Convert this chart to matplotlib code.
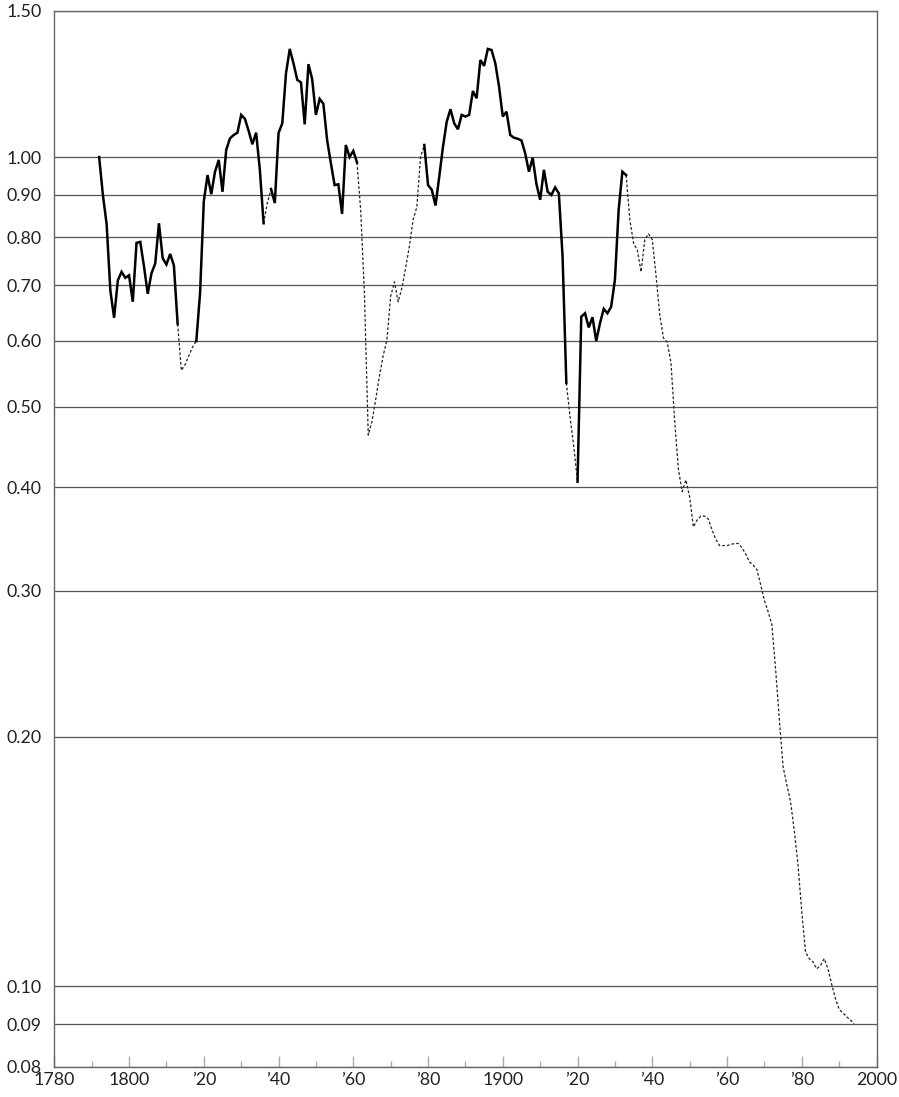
import numpy as np
import matplotlib
matplotlib.use("Agg")
import matplotlib.pyplot as plt
from matplotlib.ticker import FixedLocator, NullFormatter, NullLocator

# Annual index values, 1792-1994
years = np.arange(1792, 1995)
values = [
    1.00, 0.90, 0.83, 0.69, 0.64, 0.71, 0.727, 0.715, 0.72, 0.669,          # 1792-1801
    0.788, 0.79, 0.738, 0.684, 0.724, 0.744, 0.832, 0.755, 0.742, 0.764,    # 1802-1811
    0.740, 0.629, 0.553, 0.562, 0.576, 0.590, 0.600, 0.685, 0.884, 0.951,   # 1812-1821
    0.902, 0.960, 0.992, 0.908, 1.02, 1.053, 1.063, 1.07, 1.124, 1.112,     # 1822-1831
    1.075, 1.036, 1.07, 0.965, 0.832, 0.88, 0.915, 0.880, 1.069, 1.098,     # 1832-1841
    1.262, 1.35, 1.297, 1.239, 1.23, 1.095, 1.294, 1.241, 1.124, 1.175,     # 1842-1851
    1.159, 1.048, 0.983, 0.925, 0.927, 0.854, 1.034, 1.00, 1.017, 0.985,    # 1852-1861
    0.86, 0.68, 0.462, 0.48, 0.51, 0.545, 0.576, 0.602, 0.679, 0.707,       # 1862-1871
    0.669, 0.695, 0.735, 0.78, 0.84, 0.87, 1.00, 1.034, 0.925, 0.913,       # 1872-1881
    0.874, 0.947, 1.029, 1.103, 1.142, 1.098, 1.080, 1.124, 1.119, 1.124,   # 1882-1891
    1.201, 1.177, 1.309, 1.288, 1.35, 1.346, 1.297, 1.216, 1.119, 1.134,    # 1892-1901
    1.063, 1.055, 1.052, 1.047, 1.01, 0.960, 0.998, 0.928, 0.888, 0.965,    # 1902-1911
    0.908, 0.900, 0.919, 0.904, 0.758, 0.534, 0.486, 0.447, 0.406, 0.642,   # 1912-1921
    0.648, 0.623, 0.641, 0.600, 0.630, 0.656, 0.648, 0.660, 0.711, 0.863,   # 1922-1931
    0.960, 0.951, 0.84, 0.787, 0.772, 0.727, 0.795, 0.808, 0.795, 0.72,     # 1932-1941
    0.645, 0.605, 0.598, 0.565, 0.48, 0.42, 0.395, 0.408, 0.389, 0.358,     # 1942-1951
    0.365, 0.369, 0.369, 0.366, 0.355, 0.346, 0.340, 0.340, 0.340, 0.341,  # 1952-1961
    0.342, 0.342, 0.338, 0.332, 0.325, 0.322, 0.318, 0.305, 0.292, 0.283,  # 1962-1971
    0.273, 0.241, 0.2096, 0.184, 0.175, 0.167, 0.154, 0.140, 0.123, 0.110, # 1972-1981
    0.108, 0.107, 0.105, 0.106, 0.108, 0.105, 0.1006, 0.0967, 0.0938,     # 1982-1990
    0.0929, 0.0919, 0.0911, 0.0901,                                        # 1991-1994
]
values = np.array(values)

# Years covered by continuous observations (solid); the rest is estimated (dotted)
solid_spans = [(1792, 1813), (1818, 1836), (1838, 1861), (1879, 1917), (1920, 1933)]
dotted_spans = [(1813, 1818), (1836, 1838), (1861, 1879), (1917, 1920), (1933, 1994)]

y_ticks = [0.08, 0.09, 0.10, 0.20, 0.30, 0.40, 0.50, 0.60, 0.70, 0.80, 0.90, 1.00, 1.50]
y_labels = ["0.08", "0.09", "0.10", "0.20", "0.30", "0.40", "0.50", "0.60",
            "0.70", "0.80", "0.90", "1.00", "1.50"]
x_major = [1780, 1800, 1820, 1840, 1860, 1880, 1900, 1920, 1940, 1960, 1980, 2000]
x_labels = ["1780", "1800", "\u201920", "\u201940", "\u201960", "\u201980",
            "1900", "\u201920", "\u201940", "\u201960", "\u201980", "2000"]
x_minor = [1790, 1810, 1830, 1850, 1870, 1890, 1910, 1930, 1950, 1970, 1990]

plt.rcParams["font.family"] = ["Lato", "DejaVu Sans"]

fig = plt.figure(figsize=(8.99, 10.97), dpi=100)
ax = fig.add_axes([0.0604, 0.0276, 0.9146, 0.9624])
ax.set_yscale("log")
ax.set_xlim(1780, 2000)
ax.set_ylim(0.08, 1.50)

grid_color = "#555555"
for v in y_ticks:
    ax.axhline(v, color=grid_color, lw=0.9, zorder=1)

def span_mask(a, b):
    return (years >= a) & (years <= b)

for a, b in dotted_spans:
    m = span_mask(a, b)
    ax.plot(years[m], values[m], color="#222222", lw=0.9,
            linestyle=(0, (2.2, 1.6)), zorder=2)
for a, b in solid_spans:
    m = span_mask(a, b)
    ax.plot(years[m], values[m], color="black", lw=1.8,
            solid_joinstyle="miter", zorder=3)

# y axis: labels only, gridlines carry the reference
ax.yaxis.set_major_locator(FixedLocator(y_ticks))
ax.yaxis.set_minor_locator(NullLocator())
ax.yaxis.set_minor_formatter(NullFormatter())
ax.set_yticklabels(y_labels)
ax.tick_params(axis="y", which="both", length=0, pad=9, labelsize=12.8, colors="#222222")

# x axis: inward ticks every 20 years, short ones in between
ax.xaxis.set_major_locator(FixedLocator(x_major))
ax.xaxis.set_minor_locator(FixedLocator(x_minor))
ax.set_xticklabels(x_labels)
ax.tick_params(axis="x", which="major", direction="in", length=8, width=1.0,
               color="#aaaaaa", pad=4, labelsize=12.8, labelcolor="#222222")
ax.tick_params(axis="x", which="minor", direction="in", length=4.5, width=1.0,
               color="#aaaaaa")

for s in ax.spines.values():
    s.set_color("#666666")
    s.set_linewidth(1.0)

fig.savefig("out.png", dpi=100)
